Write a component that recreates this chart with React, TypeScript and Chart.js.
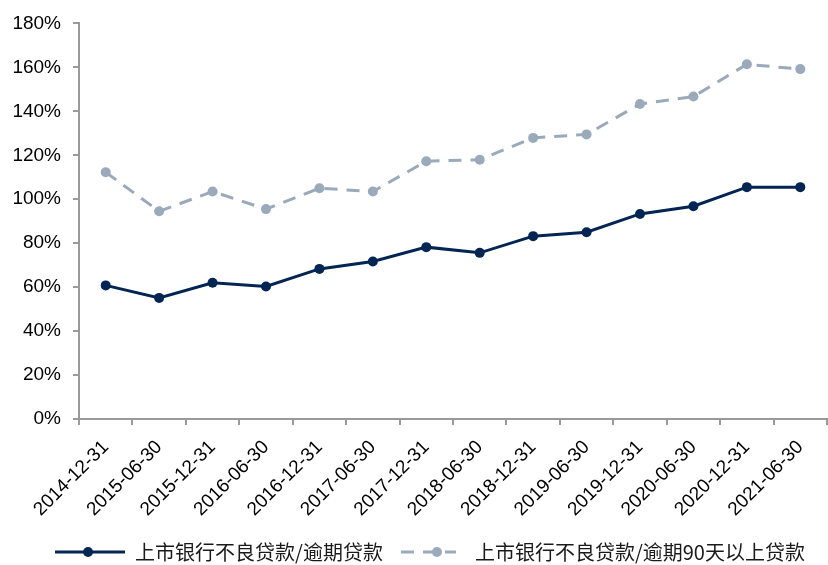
import React, { useEffect, useRef } from 'react';
import { Chart, registerables } from 'chart.js';

Chart.register(...registerables);

// Reporting dates (semi-annual)
const categories = [
  '2014-12-31', '2015-06-30', '2015-12-31', '2016-06-30', '2016-12-31',
  '2017-06-30', '2017-12-31', '2018-06-30', '2018-12-31', '2019-06-30',
  '2019-12-31', '2020-06-30', '2020-12-31', '2021-06-30',
];

// NPL / overdue loans (%)
const nplToOverdue = [60.8, 55.1, 62.0, 60.3, 68.3, 71.7, 78.2, 75.6, 83.2, 85.0, 93.3, 96.8, 105.5, 105.5];

// NPL / loans overdue more than 90 days (%)
const nplToOverdue90 = [112.3, 94.5, 103.5, 95.5, 105.0, 103.5, 117.3, 118.0, 127.9, 129.5, 143.3, 146.7, 161.4, 159.2];

const seriesNames = ['上市银行不良贷款/逾期贷款', '上市银行不良贷款/逾期90天以上贷款'];

const yMin = 0;
const yMax = 180;
const yStep = 20;

const DARK = '#032553';
const LIGHT = '#9aaabb';
const AXIS = '#9a9a9a';

// Legend swatch: a short line with a dot, drawn into a small canvas
function legendSwatch(color: string, dashed: boolean): HTMLCanvasElement {
  const c = document.createElement('canvas');
  c.width = 70;
  c.height = 14;
  const ctx = c.getContext('2d')!;
  ctx.strokeStyle = color;
  ctx.fillStyle = color;
  ctx.lineWidth = 3;
  if (dashed) {
    ctx.setLineDash([13, 9]);
    ctx.beginPath();
    ctx.moveTo(6, 7);
    ctx.lineTo(61, 7);
    ctx.stroke();
    ctx.beginPath();
    ctx.arc(42, 7, 5, 0, Math.PI * 2);
    ctx.fill();
  } else {
    ctx.beginPath();
    ctx.moveTo(0, 7);
    ctx.lineTo(70, 7);
    ctx.stroke();
    ctx.beginPath();
    ctx.arc(33, 7, 5, 0, Math.PI * 2);
    ctx.fill();
  }
  return c;
}

// Centre the legend row under the plot area rather than the full canvas
const legendAlign = {
  id: 'legendAlign',
  afterLayout(chart: any) {
    if (chart.legend) {
      chart.legend.left = 33;
      chart.legend.right = 827;
    }
  },
};

export default function App() {
  const canvasRef = useRef<HTMLCanvasElement | null>(null);

  useEffect(() => {
    document.body.style.margin = '0';
    const canvas = canvasRef.current;
    if (!canvas) return;
    const swatches = [legendSwatch(DARK, false), legendSwatch(LIGHT, true)];

    const chart = new Chart(canvas, {
      type: 'line',
      data: {
        labels: categories,
        datasets: [
          {
            label: seriesNames[0],
            data: nplToOverdue,
            borderColor: DARK,
            backgroundColor: DARK,
            borderWidth: 3,
            pointRadius: 5,
            pointBackgroundColor: DARK,
            pointBorderWidth: 0,
            pointStyle: 'circle',
            tension: 0,
          },
          {
            label: seriesNames[1],
            data: nplToOverdue90,
            borderColor: LIGHT,
            backgroundColor: LIGHT,
            borderWidth: 3,
            borderDash: [13, 9],
            pointRadius: 5,
            pointBackgroundColor: LIGHT,
            pointBorderWidth: 0,
            pointStyle: 'circle',
            tension: 0,
          },
        ],
      },
      plugins: [legendAlign],
      options: {
        animation: false,
        responsive: true,
        maintainAspectRatio: false,
        layout: { autoPadding: false, padding: { left: 11, right: 1, top: 20, bottom: -7 } },
        plugins: {
          tooltip: { enabled: false },
          legend: {
            position: 'bottom',
            labels: {
              usePointStyle: true,
              pointStyleWidth: 70,
              padding: 12,
              color: '#1a1a1a',
              font: { family: '"Noto Sans CJK SC", sans-serif', size: 20 },
              generateLabels: (ch) =>
                ch.data.datasets.map((ds, i) => ({
                  text: ds.label as string,
                  pointStyle: swatches[i],
                  fillStyle: 'transparent',
                  strokeStyle: 'transparent',
                  lineWidth: 0,
                  hidden: false,
                  datasetIndex: i,
                  fontColor: '#1a1a1a',
                })),
            },
          },
        },
        scales: {
          x: {
            offset: true,
            afterFit: (s: any) => {
              s.height = 111;
              s.paddingLeft = 0;
              s.paddingRight = 0;
            },
            grid: {
              offset: true,
              drawOnChartArea: false,
              drawTicks: true,
              tickLength: 6,
              color: AXIS,
              lineWidth: 2,
            },
            border: { color: AXIS, width: 2 },
            ticks: {
              minRotation: 45,
              maxRotation: 45,
              padding: 11,
              color: '#000',
              font: { family: '"Liberation Sans", Arial, sans-serif', size: 19 },
            },
          },
          y: {
            min: yMin,
            max: yMax,
            afterFit: (s: any) => {
              s.width = 68;
            },
            grid: {
              drawOnChartArea: false,
              drawTicks: true,
              tickLength: 6,
              color: AXIS,
              lineWidth: 2,
            },
            border: { color: AXIS, width: 2 },
            ticks: {
              stepSize: yStep,
              padding: 12,
              color: '#000',
              font: { family: '"Liberation Sans", Arial, sans-serif', size: 19 },
              callback: (v) => `${v}%`,
            },
          },
        },
      },
    });
    return () => chart.destroy();
  }, []);

  return (
    <div style={{ width: 828, height: 565, position: 'relative' }}>
      <canvas ref={canvasRef} />
    </div>
  );
}
